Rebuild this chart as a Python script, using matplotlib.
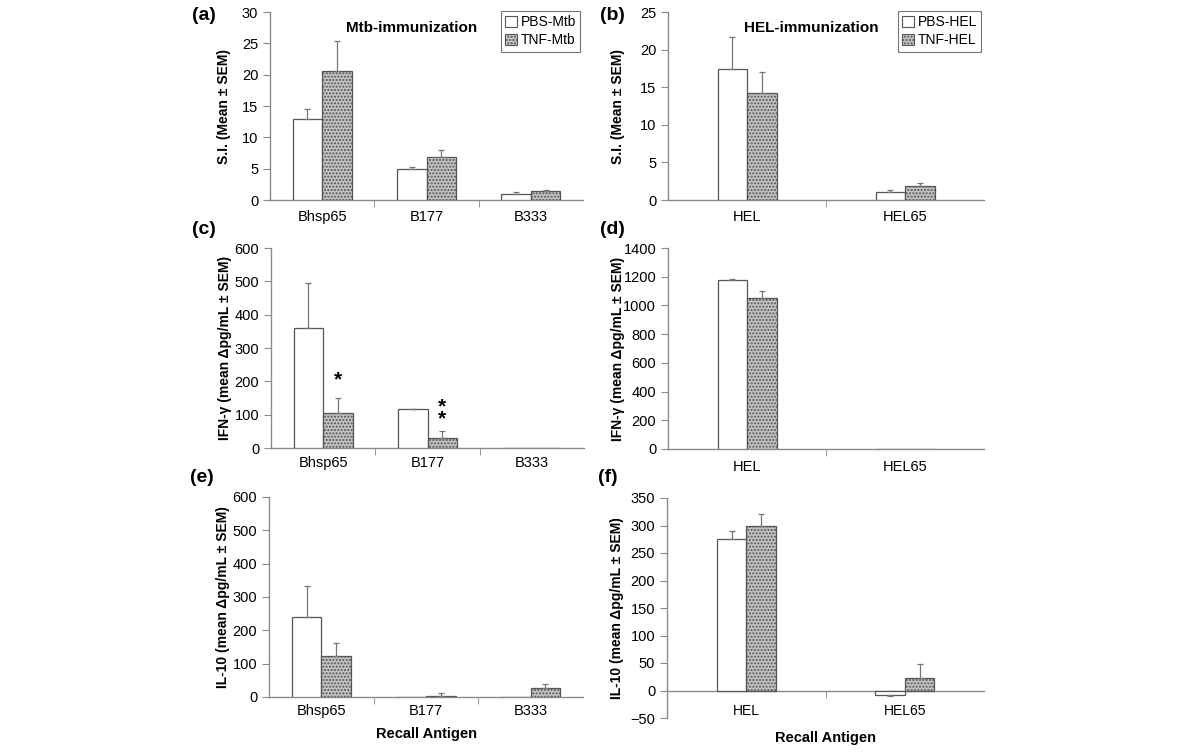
import matplotlib
matplotlib.use("Agg")
import matplotlib.pyplot as plt
import numpy as np
from matplotlib.patches import Patch

plt.rcParams['font.family'] = ['Liberation Sans', 'DejaVu Sans']

# ---- data ----
mtb_cats = ["Bhsp65", "B177", "B333"]
hel_cats = ["HEL", "HEL65"]

si_mtb_pbs = [13.0, 4.9, 1.0]
si_mtb_pbs_err = [1.6, 0.4, 0.2]
si_mtb_tnf = [20.6, 6.8, 1.4]
si_mtb_tnf_err = [4.7, 1.2, 0.2]

si_hel_pbs = [17.4, 1.1]
si_hel_pbs_err = [4.3, 0.2]
si_hel_tnf = [14.2, 1.8]
si_hel_tnf_err = [2.8, 0.4]

ifn_mtb_pbs = [360, 116, 0]
ifn_mtb_pbs_err = [135, 2, 0]
ifn_mtb_tnf = [106, 30, 0]
ifn_mtb_tnf_err = [44, 20, 0]

ifn_hel_pbs = [1180, 0]
ifn_hel_pbs_err = [7, 0]
ifn_hel_tnf = [1050, 0]
ifn_hel_tnf_err = [50, 0]

il10_mtb_pbs = [239, 0, 0]
il10_mtb_pbs_err = [94, 0, 0]
il10_mtb_tnf = [122, 2, 28]
il10_mtb_tnf_err = [39, 11, 12]

il10_hel_pbs = [276, -8]
il10_hel_pbs_err = [14, 2]
il10_hel_tnf = [299, 22]
il10_hel_tnf_err = [22, 26]

W, H = 1200, 752
fig = plt.figure(figsize=(12, 7.52), dpi=100)

def ax_px(l, r, top, bot):
    return fig.add_axes([l / W, 1 - bot / H, (r - l) / W, (bot - top) / H])

EDGE = '#555555'
SPINE = '#8a8a8a'
GRAY = '#c4c4c4'

def panel(ax, cats, pbs, pbs_err, tnf, tnf_err, ylim, yticks, ylabel, axpx,
          xlabel=None, zero_spine=False, pad=6):
    n = len(cats)
    x = np.arange(n)
    bw = 29.5 / (axpx / n)
    ax.bar(x - bw / 2, pbs, bw, color='white', edgecolor=EDGE, linewidth=0.9, zorder=3)
    ax.bar(x + bw / 2, tnf, bw, color=GRAY, edgecolor=EDGE, linewidth=0.9,
           hatch='.....', zorder=3)
    for xs, vals, errs in ((x - bw / 2, pbs, pbs_err), (x + bw / 2, tnf, tnf_err)):
        for xi, v, e in zip(xs, vals, errs):
            if e <= 0:
                continue
            yerr = [[0], [e]] if v >= 0 else [[e], [0]]
            ax.errorbar([xi], [v], yerr=yerr, fmt='none', ecolor='#777777',
                        elinewidth=0.9, capsize=2.5, capthick=0.9, zorder=4)
    ax.set_xlim(-0.5, n - 0.5)
    ax.set_ylim(*ylim)
    ax.set_yticks(yticks)
    ax.set_xticks(x)
    ax.set_xticklabels(cats, fontsize=10.5)
    ax.set_xticks(np.arange(n - 1) + 0.5, minor=True)
    ax.tick_params(axis='x', which='major', length=0, pad=pad)
    ax.tick_params(axis='x', which='minor', length=5, direction='out', color=SPINE)
    ax.tick_params(axis='y', length=5, direction='out', color=SPINE, labelsize=10.5)
    for s in ('top', 'right'):
        ax.spines[s].set_visible(False)
    for s in ('left', 'bottom'):
        ax.spines[s].set_color(SPINE)
        ax.spines[s].set_linewidth(1.0)
    if zero_spine:
        ax.spines['bottom'].set_position(('data', 0))
    ax.set_ylabel(ylabel, fontsize=10, fontweight='bold')
    if xlabel:
        ax.set_xlabel(xlabel, fontsize=10.5, fontweight='bold', labelpad=2)
    ax.set_facecolor('none')

axa = ax_px(270, 583, 12, 200)
axb = ax_px(668, 984, 12, 200)
axc = ax_px(271, 584, 248, 448)
axd = ax_px(668, 984, 248, 449)
axe = ax_px(269, 583, 497, 697)
axf = ax_px(667, 984, 498, 718)

panel(axa, mtb_cats, si_mtb_pbs, si_mtb_pbs_err, si_mtb_tnf, si_mtb_tnf_err,
      (0, 30), range(0, 31, 5), 'S.I. (Mean ± SEM)', 313, pad=7)
panel(axb, hel_cats, si_hel_pbs, si_hel_pbs_err, si_hel_tnf, si_hel_tnf_err,
      (0, 25), range(0, 26, 5), 'S.I. (Mean ± SEM)', 316, pad=7)
panel(axc, mtb_cats, ifn_mtb_pbs, ifn_mtb_pbs_err, ifn_mtb_tnf, ifn_mtb_tnf_err,
      (0, 600), range(0, 601, 100), 'IFN-γ (mean Δpg/mL ± SEM)', 313, pad=6)
panel(axd, hel_cats, ifn_hel_pbs, ifn_hel_pbs_err, ifn_hel_tnf, ifn_hel_tnf_err,
      (0, 1400), range(0, 1401, 200), 'IFN-γ (mean Δpg/mL ± SEM)', 316, pad=8)
panel(axe, mtb_cats, il10_mtb_pbs, il10_mtb_pbs_err, il10_mtb_tnf, il10_mtb_tnf_err,
      (0, 600), range(0, 601, 100), 'IL-10 (mean Δpg/mL ± SEM)', 314,
      xlabel='Recall Antigen', pad=5)
panel(axf, hel_cats, il10_hel_pbs, il10_hel_pbs_err, il10_hel_tnf, il10_hel_tnf_err,
      (-50, 350), range(-50, 351, 50), 'IL-10 (mean Δpg/mL ± SEM)', 317,
      xlabel='Recall Antigen', zero_spine=True, pad=10)

# y-label positions
for ax in (axa, axc, axe):
    ax.yaxis.set_label_coords(-39 / 313, 0.5)
for ax in (axb, axd, axf):
    ax.yaxis.set_label_coords(-43 / 316, 0.5)
axe.xaxis.set_label_coords(0.5, -0.15)
axf.xaxis.set_label_coords(0.5, -0.06)

# titles
axa.text(0.454, 0.915, 'Mtb-immunization', transform=axa.transAxes, ha='center',
         va='center', fontsize=11, fontweight='bold')
axb.text(0.455, 0.915, 'HEL-immunization', transform=axb.transAxes, ha='center',
         va='center', fontsize=11, fontweight='bold')

# legends
for ax, names in ((axa, ['PBS-Mtb', 'TNF-Mtb']), (axb, ['PBS-HEL', 'TNF-HEL'])):
    handles = [Patch(facecolor='white', edgecolor=EDGE, linewidth=0.8),
               Patch(facecolor=GRAY, edgecolor=EDGE, linewidth=0.8, hatch='.....')]
    leg = ax.legend(handles, names, loc='upper right', bbox_to_anchor=(1.0, 1.02),
                    fontsize=10, frameon=True, fancybox=False, handlelength=0.8,
                    handleheight=0.8, handletextpad=0.3, borderpad=0.3,
                    labelspacing=0.3, borderaxespad=0.2)
    leg.get_frame().set_edgecolor('#555555')
    leg.get_frame().set_linewidth(0.8)

# significance stars in (c)
bwc = 29.5 / (313 / 3)
axc.text(0 + bwc / 2, ifn_mtb_tnf[0] + ifn_mtb_tnf_err[0] + 25, '*', ha='center',
         va='bottom', fontsize=15, fontweight='bold')
axc.text(1 + bwc / 2, ifn_mtb_tnf[1] + ifn_mtb_tnf_err[1] + 8, '*\n*', ha='center',
         va='bottom', fontsize=15, fontweight='bold', linespacing=0.55)

# panel letters
for lab, px, py in (('(a)', 192, 15), ('(b)', 600, 15), ('(c)', 192, 230),
                    ('(d)', 600, 230), ('(e)', 190, 478), ('(f)', 598, 478)):
    fig.text(px / W, 1 - py / H, lab, fontsize=14, fontweight='bold',
             ha='left', va='center')

fig.savefig('out.png', dpi=100, facecolor='white')
